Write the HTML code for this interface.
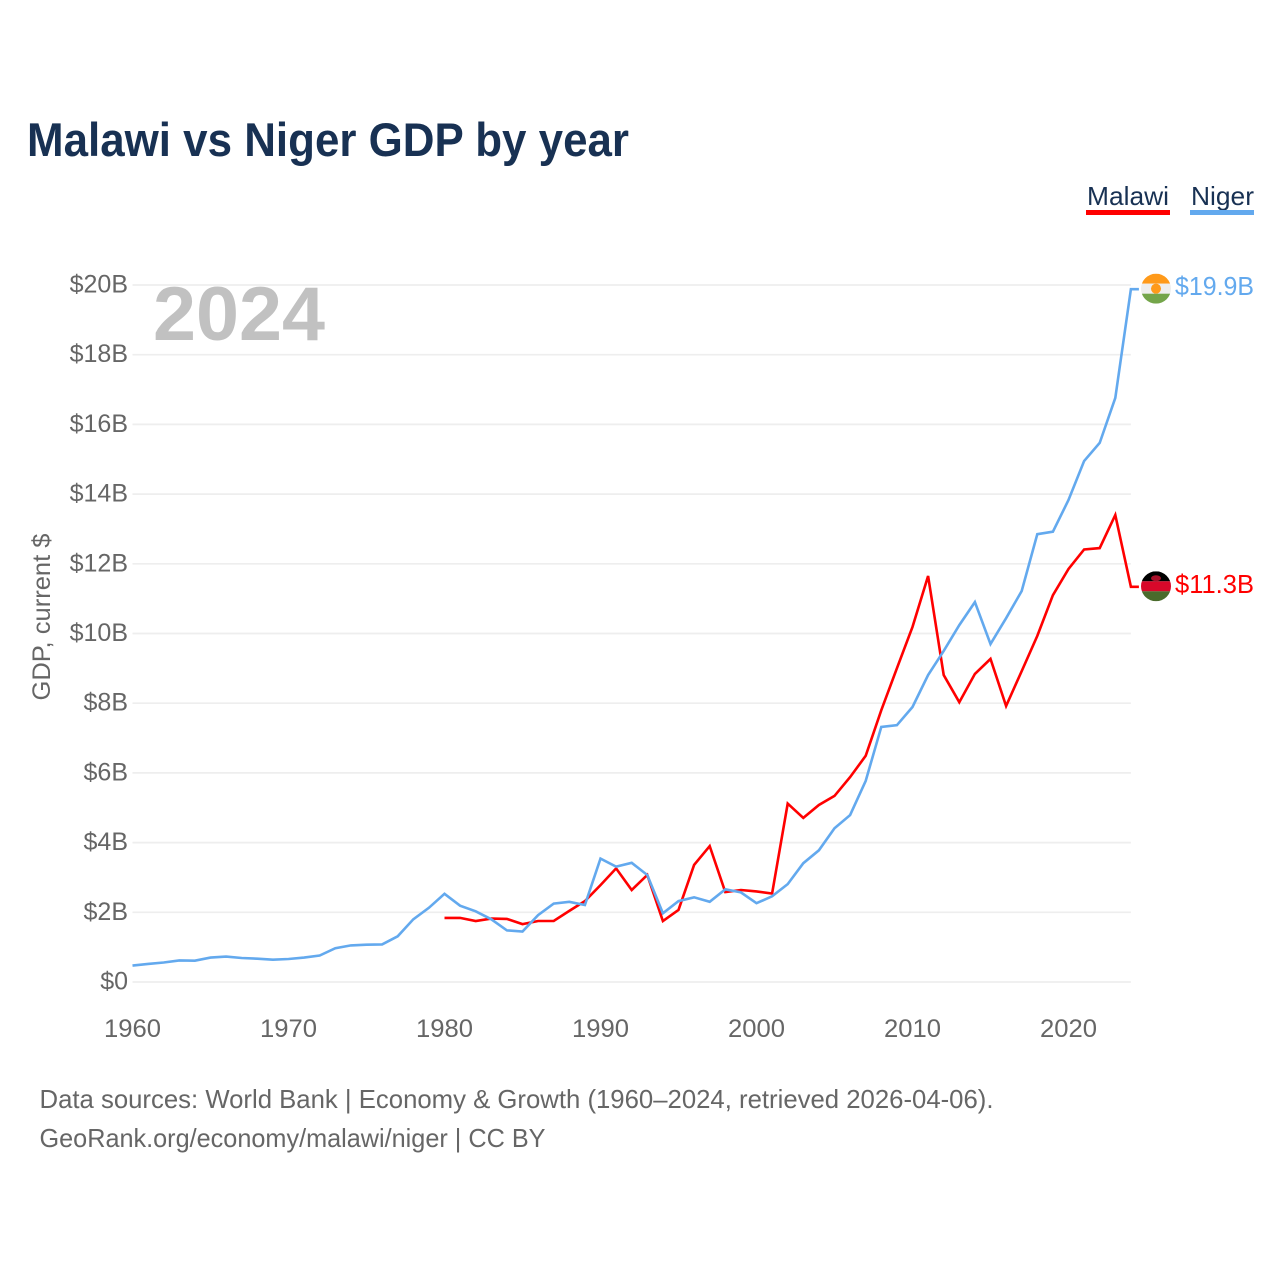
<!DOCTYPE html>
<html lang="en">
<head>
<meta charset="utf-8">
<title>Malawi vs Niger GDP by year</title>
<style>
  html, body { margin: 0; padding: 0; background: #fff; }
  svg { display: block; font-family: "Liberation Sans", sans-serif; }
</style>
</head>
<body>
<svg id="chart" width="1280" height="1280" viewBox="0 0 1280 1280" xmlns="http://www.w3.org/2000/svg">
  <defs>
    <clipPath id="niger-clip"><circle id="niger-clip-circle" r="15"></circle></clipPath>
    <clipPath id="malawi-clip"><circle id="malawi-clip-circle" r="15"></circle></clipPath>
  </defs>
  <rect width="1280" height="1280" fill="#fff"></rect>
  <text x="27" y="156" font-size="47" font-weight="700" fill="#183153" textLength="602" lengthAdjust="spacingAndGlyphs">Malawi vs Niger GDP by year</text>

  <g>
    <g>
      <text x="1087" y="205" font-size="26" fill="#183153" textLength="82" lengthAdjust="spacingAndGlyphs">Malawi</text>
      <rect x="1086" y="210" width="84" height="5" fill="#ff0000"></rect>
    </g>
    <g>
      <text x="1191" y="205" font-size="26" fill="#183153" textLength="63" lengthAdjust="spacingAndGlyphs">Niger</text>
      <rect x="1190" y="210" width="64" height="5" fill="#63a9ee"></rect>
    </g>
  </g>

  <g id="grid"></g>
  <g id="y-axis"></g>
  <g id="x-axis"></g>

  <text x="153" y="340" font-size="76" font-weight="700" fill="#c1c1c1" textLength="172" lengthAdjust="spacingAndGlyphs">2024</text>
  <text transform="translate(50,617) rotate(-90)" text-anchor="middle" font-size="25" fill="#666666" textLength="167" lengthAdjust="spacingAndGlyphs">GDP, current $</text>

  <g id="series"></g>

  <g id="niger-end">
    <g id="niger-flag" clip-path="url(#niger-clip)">
      <rect x="-15" y="-15" width="30" height="10" fill="#ff9a1a"></rect>
      <rect x="-15" y="-5" width="30" height="10" fill="#eeeeee"></rect>
      <rect x="-15" y="5" width="30" height="10" fill="#74a54a"></rect>
      <circle r="5" fill="#ff9a1a"></circle>
    </g>
    <text id="niger-value" font-size="26" fill="#63a9ee" textLength="79" lengthAdjust="spacingAndGlyphs"></text>
  </g>
  <g id="malawi-end">
    <g id="malawi-flag" clip-path="url(#malawi-clip)">
      <rect x="-15" y="-15" width="30" height="10" fill="#000000"></rect>
      <rect x="-15" y="-5" width="30" height="10" fill="#d8082a"></rect>
      <rect x="-15" y="5" width="30" height="10" fill="#4a6b2c"></rect>
      <ellipse cx="0" cy="-8" rx="5" ry="3" fill="#a8102a"></ellipse>
    </g>
    <text id="malawi-value" font-size="26" fill="#ff0000" textLength="79" lengthAdjust="spacingAndGlyphs"></text>
  </g>

  <text x="39.5" y="1108" font-size="26" fill="#666666" textLength="954" lengthAdjust="spacingAndGlyphs">Data sources: World Bank | Economy &amp; Growth (1960–2024, retrieved 2026-04-06).</text>
  <text x="39.5" y="1147" font-size="26" fill="#666666" textLength="506" lengthAdjust="spacingAndGlyphs">GeoRank.org/economy/malawi/niger | CC BY</text>
</svg>
<script>
const nigerStartYear = 1960;
const malawiStartYear = 1980;
const nigerGdp = [0.47,0.52,0.56,0.62,0.61,0.70,0.73,0.69,0.67,0.64,0.66,0.70,0.76,0.97,1.05,1.07,1.08,1.31,1.80,2.13,2.53,2.19,2.03,1.80,1.48,1.45,1.92,2.25,2.30,2.21,3.54,3.31,3.42,3.07,1.97,2.32,2.43,2.30,2.66,2.57,2.26,2.46,2.81,3.41,3.78,4.41,4.79,5.77,7.32,7.37,7.89,8.81,9.50,10.24,10.90,9.70,10.44,11.22,12.85,12.92,13.83,14.95,15.47,16.76,19.88];
const malawiGdp = [1.84,1.84,1.75,1.82,1.81,1.66,1.75,1.75,2.04,2.32,2.78,3.26,2.64,3.07,1.75,2.07,3.36,3.90,2.58,2.64,2.60,2.54,5.12,4.71,5.08,5.34,5.88,6.49,7.80,9.00,10.19,11.65,8.81,8.03,8.84,9.27,7.92,8.92,9.93,11.10,11.85,12.41,12.45,13.40,11.34];
const yTicks = [0,2,4,6,8,10,12,14,16,18,20];
const yTickLabels = ["$0","$2B","$4B","$6B","$8B","$10B","$12B","$14B","$16B","$18B","$20B"];
const xTicks = [1960,1970,1980,1990,2000,2010,2020];
const xTickLabels = ["1960","1970","1980","1990","2000","2010","2020"];

const NS = "http://www.w3.org/2000/svg";
const xScale = year => 132.5 + (year - 1960) * 15.6;
const yScale = value => 982 - value * 34.85;

function make(tag, attrs, parent) {
  const el = document.createElementNS(NS, tag);
  for (const k in attrs) el.setAttribute(k, attrs[k]);
  parent.appendChild(el);
  return el;
}

const grid = document.getElementById("grid");
const yAxis = document.getElementById("y-axis");
const xAxis = document.getElementById("x-axis");
const seriesGroup = document.getElementById("series");

yTicks.forEach((t, i) => {
  const line = make("line", {x1: xScale(1960), x2: xScale(2024), y1: yScale(t), y2: yScale(t), stroke: "#eeeeee", "stroke-width": 1.7}, grid);
  
  
  const label = make("text", {x: 128, y: yScale(t) + 7.5, "text-anchor": "end", "font-size": 25, fill: "#666666"}, yAxis);
  
  
  label.textContent = yTickLabels[i];
});

xTicks.forEach((t, i) => {
  const label = make("text", {x: xScale(t), y: 1037, "text-anchor": "middle", "font-size": 25, fill: "#666666", textLength: 57, lengthAdjust: "spacingAndGlyphs"}, xAxis);
  
  
  label.textContent = xTickLabels[i];
});

function pathFor(values, startYear) {
  const pts = values.map((v, i) => xScale(startYear + i).toFixed(1) + "," + yScale(v).toFixed(1));
  const lastY = yScale(values[values.length - 1]).toFixed(1);
  return "M" + pts.join("L") + "L" + (xScale(2024) + 8).toFixed(1) + "," + lastY;
}

const malawiLine = make("path", {d: pathFor(malawiGdp, malawiStartYear), fill: "none", stroke: "#ff0000", "stroke-width": 2.6, "stroke-linejoin": "miter"}, seriesGroup);


const nigerLine = make("path", {d: pathFor(nigerGdp, nigerStartYear), fill: "none", stroke: "#63a9ee", "stroke-width": 2.6, "stroke-linejoin": "miter"}, seriesGroup);



function placeEnd(prefix, values) {
  const last = values[values.length - 1];
  const y = yScale(last);
  const cx = 1156;
  document.getElementById(prefix + "-clip-circle").setAttribute("cx", 0);
  document.getElementById(prefix + "-flag").setAttribute("transform", "translate(" + cx + "," + (y - 0.5) + ")");
  const text = document.getElementById(prefix + "-value");
  text.setAttribute("x", 1175);
  text.setAttribute("y", y + 6);
  text.textContent = "$" + last.toFixed(1) + "B";
}
placeEnd("niger", nigerGdp);
placeEnd("malawi", malawiGdp);
</script>
</body>
</html>
